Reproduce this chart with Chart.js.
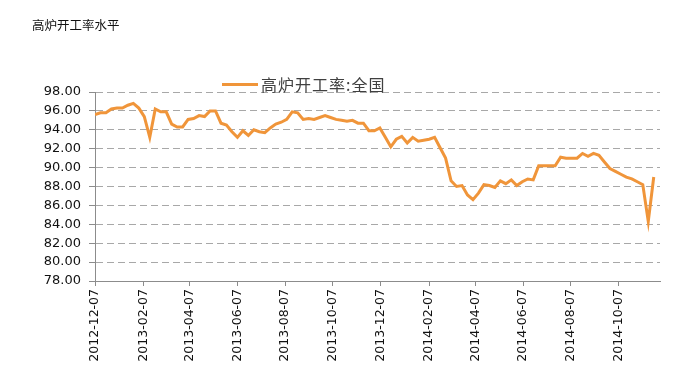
<!DOCTYPE html>
<html>
<head>
<meta charset="utf-8">
<script src="https://cdn.jsdelivr.net/npm/chart.js@4.4.1/dist/chart.umd.min.js"></script>
<style>
  body { margin: 0; background: #fff; }
  #wrap { position: relative; width: 686px; height: 381px; }
  #chart { position: absolute; left: 0; top: 0; }
  #title { position: absolute; left: 32px; top: 17px; font: 12.5px "Noto Sans CJK SC", sans-serif; color: #111; line-height: 16px; }
  #legend { position: absolute; left: 222px; top: 75px; height: 18px; display: flex; align-items: center; }
  #legend .swatch { width: 36px; height: 3px; margin-right: 3px; }
  #legend .text { font: 16px "Noto Sans CJK SC", sans-serif; color: #404040; letter-spacing: 1px; line-height: 18px; }
</style>
</head>
<body>
<div id="wrap">
  <canvas id="chart" width="686" height="381"></canvas>
  <div id="title">高炉开工率水平</div>
  <div id="legend"><div class="swatch"></div><div class="text"></div></div>
</div>
<script>
// weekly blast furnace operating rate, %
var TITLE = '高炉开工率水平';
var SERIES_NAME = '高炉开工率:全国';
var LINE_COLOR = '#F0953A';

var DATES = [
  '2012-12-07', '2012-12-14', '2012-12-21', '2012-12-28',
  '2013-01-04', '2013-01-11', '2013-01-18', '2013-01-25',
  '2013-02-01', '2013-02-08', '2013-02-15', '2013-02-22',
  '2013-03-01', '2013-03-08', '2013-03-15', '2013-03-22', '2013-03-29',
  '2013-04-05', '2013-04-12', '2013-04-19', '2013-04-26',
  '2013-05-03', '2013-05-10', '2013-05-17', '2013-05-24', '2013-05-31',
  '2013-06-07', '2013-06-14', '2013-06-21', '2013-06-28',
  '2013-07-05', '2013-07-12', '2013-07-19', '2013-07-26',
  '2013-08-02', '2013-08-09', '2013-08-16', '2013-08-23', '2013-08-30',
  '2013-09-06', '2013-09-13', '2013-09-20', '2013-09-27',
  '2013-10-04', '2013-10-11', '2013-10-18', '2013-10-25',
  '2013-11-01', '2013-11-08', '2013-11-15', '2013-11-22', '2013-11-29',
  '2013-12-06', '2013-12-13', '2013-12-20', '2013-12-27',
  '2014-01-03', '2014-01-10', '2014-01-17', '2014-01-24', '2014-01-31',
  '2014-02-07', '2014-02-14', '2014-02-21', '2014-02-28',
  '2014-03-07', '2014-03-14', '2014-03-21', '2014-03-28',
  '2014-04-04', '2014-04-11', '2014-04-18', '2014-04-25',
  '2014-05-02', '2014-05-09', '2014-05-16', '2014-05-23', '2014-05-30',
  '2014-06-06', '2014-06-13', '2014-06-20', '2014-06-27',
  '2014-07-04', '2014-07-11', '2014-07-18', '2014-07-25',
  '2014-08-01', '2014-08-08', '2014-08-15', '2014-08-22', '2014-08-29',
  '2014-09-05', '2014-09-12', '2014-09-19', '2014-09-26',
  '2014-10-03', '2014-10-10', '2014-10-17', '2014-10-24', '2014-10-31',
  '2014-11-07', '2014-11-14', '2014-11-21'
];

var VALUES = [
  95.6, 95.8, 95.8, 96.2,
  96.3, 96.3, 96.6, 96.8,
  96.3, 95.4, 93.2, 96.2,
  95.9, 95.9, 94.6, 94.3, 94.3,
  95.1, 95.2, 95.5, 95.4,
  96.0, 96.0, 94.7, 94.5, 93.8,
  93.2, 93.9, 93.4, 94.0,
  93.8, 93.7, 94.2, 94.6,
  94.8, 95.1, 95.9, 95.8, 95.1,
  95.2, 95.1, 95.3, 95.5,
  95.3, 95.1, 95.0, 94.9,
  95.0, 94.7, 94.7, 93.9, 93.9,
  94.2, 93.2, 92.2, 93.0,
  93.3, 92.6, 93.2, 92.8, 92.9,
  93.0, 93.2, 92.1, 91.0,
  88.6, 88.0, 88.1, 87.1,
  86.6, 87.3, 88.2, 88.1,
  87.9, 88.6, 88.3, 88.7, 88.1,
  88.5, 88.8, 88.7, 90.2,
  90.2, 90.2, 90.2, 91.1,
  91.0, 91.0, 91.0, 91.5, 91.2,
  91.5, 91.3, 90.6, 89.9,
  89.6, 89.3, 89.0, 88.8, 88.5,
  88.2, 84.3, 89.0
];

var X_TICKS = ['2012-12-07', '2013-02-07', '2013-04-07', '2013-06-07', '2013-08-07', '2013-10-07',
               '2013-12-07', '2014-02-07', '2014-04-07', '2014-06-07', '2014-08-07', '2014-10-07'];
var Y_MIN = 78, Y_MAX = 98, Y_STEP = 2;

// days since the first date
function dayOf(s) {
  var p = s.split('-');
  var t = Date.UTC(+p[0], +p[1] - 1, +p[2]);
  var q = DATES[0].split('-');
  return Math.round((t - Date.UTC(+q[0], +q[1] - 1, +q[2])) / 86400000);
}

document.querySelector('#legend .swatch').style.background = LINE_COLOR;
document.querySelector('#legend .text').textContent = SERIES_NAME;
document.getElementById('title').textContent = TITLE;

var points = VALUES.map(function (v, i) { return { x: dayOf(DATES[i]), y: v }; });

Chart.defaults.font.family = 'DejaVu Sans';

var ctx = document.getElementById('chart').getContext('2d');
var chart = new Chart(ctx, {
  type: 'line',
  data: {
    datasets: [{
      label: SERIES_NAME,
      data: points,
      borderColor: LINE_COLOR,
      backgroundColor: LINE_COLOR,
      borderWidth: 3,
      pointRadius: 0,
      tension: 0,
      fill: false
    }]
  },
  options: {
    responsive: false,
    animation: false,
    devicePixelRatio: 1,
    layout: { padding: { top: 92, right: 26, bottom: 0, left: 0 } },
    plugins: {
      legend: { display: false },
      title: { display: false },
      tooltip: { enabled: false }
    },
    scales: {
      x: {
        type: 'linear',
        min: 0,
        max: dayOf(DATES[DATES.length - 1]) + 8,
        afterFit: function (scale) { scale.height = 100; },
        afterBuildTicks: function (scale) {
          scale.ticks = X_TICKS.map(function (s) { return { value: dayOf(s) }; });
        },
        ticks: {
          autoSkip: false,
          minRotation: 90,
          maxRotation: 90,
          padding: 3,
          color: '#111',
          font: { size: 12.5 },
          callback: function (v, i) { return X_TICKS[i]; }
        },
        grid: { drawOnChartArea: false, drawTicks: true, tickLength: 5, color: '#8c8c8c' },
        border: { color: '#8c8c8c', width: 1 }
      },
      y: {
        min: Y_MIN,
        max: Y_MAX,
        afterFit: function (scale) { scale.width = 95; },
        ticks: {
          stepSize: Y_STEP,
          padding: 8,
          color: '#111',
          font: { size: 13 },
          callback: function (v) { return v.toFixed(2); }
        },
        grid: { color: '#a8a8a8', tickLength: 6, tickColor: '#8c8c8c', tickBorderDash: [] },
        border: { color: '#8c8c8c', width: 1, dash: [7, 4] }
      }
    }
  }
});
</script>
</body>
</html>
